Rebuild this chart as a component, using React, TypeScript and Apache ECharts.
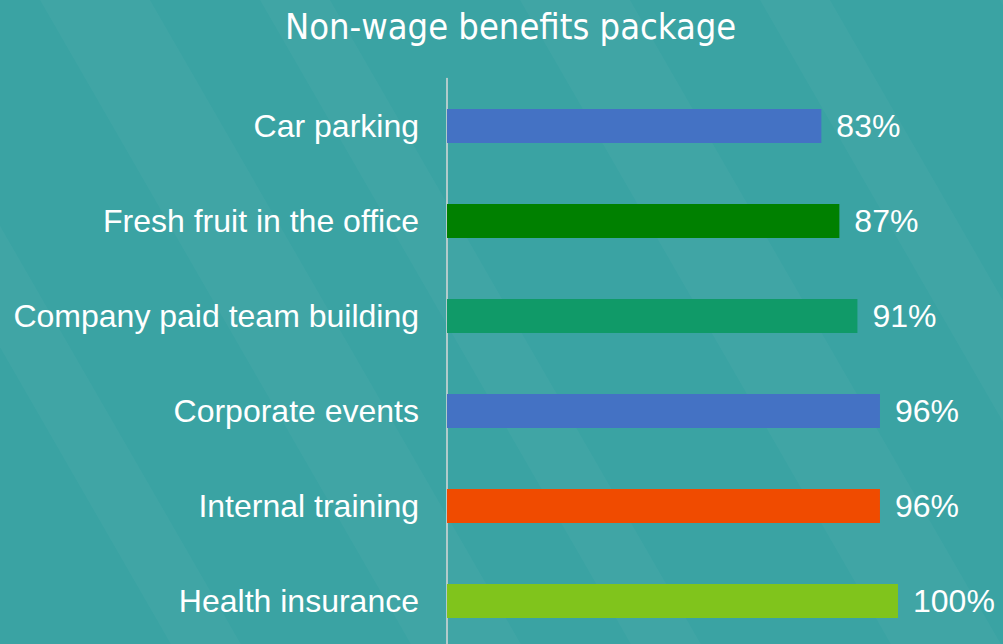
import React, { useEffect, useRef } from "react";
import * as echarts from "echarts";

const categories = [
  "Car parking",
  "Fresh fruit in the office",
  "Company paid team building",
  "Corporate events",
  "Internal training",
  "Health insurance",
];
const values = [83, 87, 91, 96, 96, 100];
const barColors = ["#4472c4", "#008000", "#109a68", "#4472c4", "#f04b00", "#80c41c"];
const titleText = "Non-wage benefits package";

export default function App() {
  const ref = useRef<HTMLDivElement>(null);
  useEffect(() => {
    document.body.style.margin = "0";
    document.body.style.overflow = "hidden";
    if (!ref.current) return;
    const chart = echarts.init(ref.current, undefined, { renderer: "svg" });
    const stripes: any[] = [];
    const offsets = [-200, 40, 260, 520, 760, 1000, 1240];
    offsets.forEach((o, i) => {
      stripes.push({
        type: "polygon",
        silent: true,
        z: -10,
        shape: {
          points: [
            [o, 0],
            [o + 70 + (i % 2) * 40, 0],
            [o + 70 + (i % 2) * 40 + 380, 660],
            [o + 380, 660],
          ],
        },
        style: { fill: "rgba(255,255,255,0.03)" },
      });
    });
    chart.setOption({
      animation: false,
      backgroundColor: "#3aa3a3",
      title: {
        text: titleText,
        left: 280,
        top: 3,
        textStyle: {
          color: "#ffffff",
          fontSize: 36,
          fontWeight: "normal",
          fontFamily: "DejaVu Sans Condensed",
        },
      },
      graphic: stripes,
      grid: { left: 447, right: 105, top: 78.5, height: 570, containLabel: false },
      xAxis: { type: "value", min: 0, max: 100, show: false },
      yAxis: {
        type: "category",
        inverse: true,
        data: categories,
        axisLine: { show: true, lineStyle: { color: "#d9d9d9", width: 1.5 } },
        axisTick: { show: false },
        splitLine: { show: false },
        axisLabel: {
          color: "#ffffff",
          fontSize: 32,
          fontFamily: "Liberation Sans",
          margin: 28,
        },
      },
      series: [
        {
          type: "bar",
          barWidth: 34,
          data: values.map((v, i) => ({ value: v, itemStyle: { color: barColors[i] } })),
          label: {
            show: true,
            position: "right",
            distance: 15,
            formatter: "{c}%",
            color: "#ffffff",
            fontSize: 32,
            fontFamily: "Liberation Sans",
          },
        },
      ],
    });
    return () => chart.dispose();
  }, []);
  return <div ref={ref} style={{ width: 1003, height: 660 }} />;
}
